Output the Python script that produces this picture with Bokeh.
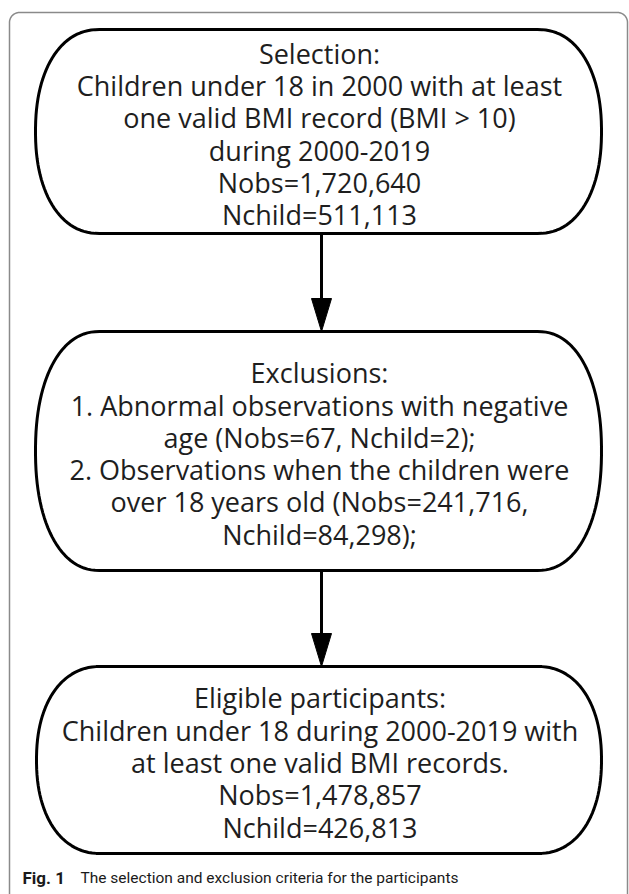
import numpy as np
from bokeh.plotting import figure
from bokeh.models import Range1d
from bokeh.core.properties import value
from bokeh.embed import file_html
from bokeh.resources import INLINE

# ---- content ----
box1_lines = ["Selection:",
              "Children under 18 in 2000 with at least",
              "one valid BMI record (BMI > 10)",
              "during 2000-2019",
              "Nobs=1,720,640",
              "Nchild=511,113"]
box2_lines = ["Exclusions:",
              "1. Abnormal observations with negative",
              "age (Nobs=67, Nchild=2);",
              "2. Observations when the children were",
              "over 18 years old (Nobs=241,716,",
              "Nchild=84,298);"]
box3_lines = ["Eligible participants:",
              "Children under 18 during 2000-2019 with",
              "at least one valid BMI records.",
              "Nobs=1,478,857",
              "Nchild=426,813"]
caption_bold = "Fig. 1"
caption_text = "The selection and exclusion criteria for the participants"

# ---- layout (page pixel coordinates) ----
W, H = 629, 894
boxes = [(35, 601, 29, 233), (35, 601, 331, 570), (36, 601, 666, 853)]
texts = [box1_lines, box2_lines, box3_lines]
LINE_H = 32.3
FONT = "Open Sans"

p = figure(width=W, height=H, x_range=Range1d(0, W), y_range=Range1d(H, 0),
           output_backend="svg", toolbar_location=None, min_border=0)
p.axis.visible = False
p.grid.visible = False
p.outline_line_color = None
p.background_fill_color = "white"

# outer frame (rounded rect)
def rrect(x0, x1, y0, y1, r, n=16):
    pts = []
    for cx, cy, a0 in [(x1 - r, y0 + r, -90), (x1 - r, y1 - r, 0), (x0 + r, y1 - r, 90), (x0 + r, y0 + r, 180)]:
        t = np.radians(np.linspace(a0, a0 + 90, n))
        pts += list(zip(cx + r * np.cos(t), cy + r * np.sin(t)))
    pts.append(pts[0])
    xs, ys = zip(*pts)
    return list(xs), list(ys)

fx, fy = rrect(9, 627, 12, 930, 10)
p.line(fx, fy, line_color="#8a8a8a", line_width=1.5)

# terminator boxes
def terminator(x0, x1, y0, y1, rx=64, expo=2.2, n=60):
    cy = (y0 + y1) / 2
    ry = (y1 - y0) / 2
    t = np.linspace(-np.pi / 2, np.pi / 2, n)
    c = np.cos(t)
    s = np.sin(t)
    ex = np.sign(c) * np.abs(c) ** (2 / expo)
    ey = np.sign(s) * np.abs(s) ** (2 / expo)
    rxs = (x1 - rx) + rx * ex          # right end: top -> bottom
    rys = cy + ry * ey
    lxs = (x0 + rx) - rx * ex[::-1]    # left end: bottom -> top
    lys = cy + ry * ey[::-1]
    xs = list(rxs) + list(lxs) + [rxs[0]]
    ys = list(rys) + list(lys) + [rys[0]]
    return xs, ys

for (bx0, bx1, by0, by1), lines in zip(boxes, texts):
    xs, ys = terminator(bx0, bx1, by0, by1)
    p.patch(xs, ys, fill_color="white", line_color="black", line_width=3)
    n = len(lines)
    cy = (by0 + by1) / 2 + 2.5
    ty = [cy + (i - (n - 1) / 2) * LINE_H for i in range(n)]
    tx = [(bx0 + bx1) / 2 + 1] * n
    p.text(tx, ty, text=lines, text_align="center", text_baseline="middle",
           text_font=value(FONT), text_font_size="27px", text_color="#1e1e1e")

# arrows
AX = 321
for (a, b) in [(boxes[0], boxes[1]), (boxes[1], boxes[2])]:
    ys, ye = a[3], b[2]
    head = 33
    p.line([AX, AX], [ys, ye - head + 2], line_color="black", line_width=3)
    p.patch([AX - 10, AX + 10, AX], [ye - head, ye - head, ye], fill_color="black", line_color="black", line_width=1)

# caption
p.text([22], [877], text=[caption_bold], text_align="left", text_baseline="middle",
       text_font=value("Roboto"), text_font_style="bold", text_font_size="17px", text_color="#1a1a1a")
p.text([80], [877], text=[caption_text], text_align="left", text_baseline="middle",
       text_font=value("Roboto"), text_font_size="15.5px", text_color="#1a1a1a")

open("out.html", "w").write(file_html(p, INLINE))
